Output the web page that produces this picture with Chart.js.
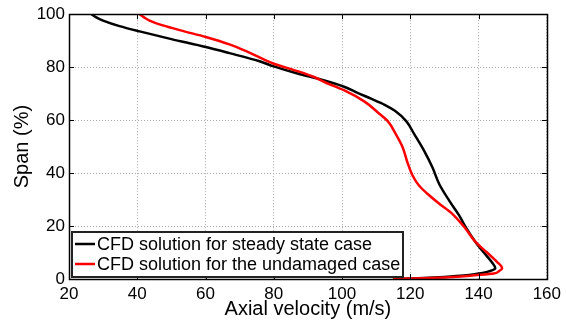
<!DOCTYPE html>
<html>
<head>
<meta charset="utf-8">
<script src="https://cdn.jsdelivr.net/npm/chart.js@4.4.1/dist/chart.umd.min.js"></script>
<style>
    html, body { margin: 0; padding: 0; background: #fff; }
    #wrap { width: 566px; height: 327px; }
</style>
</head>
<body>
<div id="wrap"><canvas id="profileChart" width="566" height="327"></canvas></div>
<script>
// velocity (m/s) vs span (%)
const steadyVel = [26.6, 28, 30, 34.8, 40.7, 50, 60.1, 67, 75.6, 80, 87.2, 93, 100.4, 104.7, 108.5, 112.5, 115.5, 118.8, 121.2, 124.1, 126.5, 128.5, 131.4, 134.3, 136.5, 139.1, 141.4, 143.8, 144.9, 143.8, 142.5, 139.6, 135.7, 130, 124, 118];
const steadySpan = [100, 98.8, 97.6, 95.5, 93.5, 90.6, 87.6, 85.3, 82.3, 80.3, 77.5, 75.6, 72.7, 70.2, 68.1, 65.8, 63.5, 59.6, 54.6, 48.3, 42.1, 35.8, 29.6, 24, 19, 14, 10.2, 6.5, 4, 3.2, 2.7, 2.0, 1.3, 0.8, 0.4, 0.1];

const undamagedVel = [40.7, 42, 43.6, 47.5, 53, 60.1, 67, 72.7, 80, 87.2, 92, 95, 100.4, 106.6, 110.5, 113.4, 115.8, 117.8, 119.2, 120.7, 122.6, 125.1, 128.5, 132.3, 136.2, 139.1, 142.3, 145.4, 146.9, 146, 144.5, 139.6, 130, 120, 114.9];
const undamagedSpan = [100, 98.8, 97.6, 95.8, 93.8, 91.4, 88.6, 85.6, 81.3, 78.4, 76.2, 74.3, 71.4, 67, 62.9, 59.6, 54.6, 49.6, 43.9, 39, 35.2, 32.1, 28.4, 24.6, 19, 14, 10.2, 6.5, 4, 3, 2.1, 1.5, 0.6, 0.2, 0];

const xTicks = [20, 40, 60, 80, 100, 120, 140, 160];
const yTicks = [0, 20, 40, 60, 80, 100];
const seriesLabels = ['CFD solution for steady state case', 'CFD solution for the undamaged case'];
const seriesColors = ['#000000', '#ff0000'];

const toPoints = (xs, ys) => xs.map((v, i) => ({ x: v, y: ys[i] }));

const FONT = 'Liberation Sans, Arial, Helvetica, sans-serif';

// box round the plot, inward tick marks and the legend box
const matlabFrame = {
    id: 'matlabFrame',
    afterDraw(chart) {
        const { ctx, chartArea: a, scales: { x, y } } = chart;
        ctx.save();
        ctx.strokeStyle = '#000';
        ctx.lineWidth = 1;
        ctx.beginPath();
        xTicks.forEach(v => {
            const px = Math.round(x.getPixelForValue(v)) + 0.5;
            ctx.moveTo(px, a.bottom); ctx.lineTo(px, a.bottom - 5);
            ctx.moveTo(px, a.top); ctx.lineTo(px, a.top + 5);
        });
        yTicks.forEach(v => {
            const py = Math.round(y.getPixelForValue(v)) + 0.5;
            ctx.moveTo(a.left, py); ctx.lineTo(a.left + 5, py);
            ctx.moveTo(a.right, py); ctx.lineTo(a.right - 5, py);
        });
        ctx.stroke();
        ctx.lineWidth = 1.5;
        ctx.strokeRect(Math.round(a.left) + 0.5, Math.round(a.top) + 0.5, Math.round(a.right - a.left), Math.round(a.bottom - a.top));

        // legend
        const lx = a.left + 3, ly = a.bottom - 47, lw = 331, lh = 45;
        ctx.fillStyle = '#fff';
        ctx.fillRect(lx, ly, lw, lh);
        ctx.strokeStyle = '#222';
        ctx.lineWidth = 2;
        ctx.strokeRect(lx, ly, lw, lh);
        ctx.font = '18px ' + FONT;
        ctx.textBaseline = 'middle';
        seriesLabels.forEach((label, i) => {
            const yy = ly + 12 + i * 20;
            ctx.strokeStyle = seriesColors[i];
            ctx.lineWidth = 2.5;
            ctx.beginPath();
            ctx.moveTo(lx + 3, yy); ctx.lineTo(lx + 23, yy);
            ctx.stroke();
            ctx.fillStyle = '#000';
            ctx.fillText(label, lx + 25, yy + 1);
        });
        ctx.restore();
    }
};

const ctx = document.getElementById('profileChart').getContext('2d');
new Chart(ctx, {
    type: 'line',
    data: {
        datasets: [{
            label: seriesLabels[0],
            data: toPoints(steadyVel, steadySpan),
            borderColor: seriesColors[0],
            borderWidth: 2.5,
            pointRadius: 0,
            fill: false,
            cubicInterpolationMode: 'monotone',
            order: 1
        }, {
            label: seriesLabels[1],
            data: toPoints(undamagedVel, undamagedSpan),
            borderColor: seriesColors[1],
            borderWidth: 2.5,
            pointRadius: 0,
            fill: false,
            cubicInterpolationMode: 'monotone',
            order: 0
        }]
    },
    options: {
        indexAxis: 'y',   // span runs one way along each profile
        responsive: false,
        animation: false,
        layout: { padding: { top: 12, right: 15, left: 0, bottom: 0 } },
        plugins: {
            legend: { display: false },
            tooltip: { enabled: false }
        },
        scales: {
            x: {
                type: 'linear',
                position: 'bottom',
                min: 20,
                max: 160,
                afterBuildTicks: s => { s.ticks = xTicks.map(v => ({ value: v })); },
                afterFit: s => { s.height = 48; },
                ticks: { color: '#000', padding: 5, maxRotation: 0, font: { family: FONT, size: 17 } },
                grid: { color: '#a8a8a8', drawTicks: false },
                border: { display: false, dash: [1, 2] },
                title: {
                    display: true,
                    text: 'Axial velocity (m/s)',
                    color: '#000',
                    font: { family: FONT, size: 20 },
                    padding: { top: 0, bottom: 6 }
                }
            },
            y: {
                type: 'linear',
                position: 'left',
                min: 0,
                max: 100,
                reverse: false,
                afterBuildTicks: s => { s.ticks = yTicks.map(v => ({ value: v })); },
                afterFit: s => { s.width = 69; },
                ticks: { color: '#000', padding: 4, font: { family: FONT, size: 17 } },
                grid: { color: '#a8a8a8', drawTicks: false },
                border: { display: false, dash: [1, 2] },
                title: {
                    display: true,
                    text: 'Span (%)',
                    color: '#000',
                    font: { family: FONT, size: 20 },
                    padding: { top: 10, bottom: 0 }
                }
            }
        }
    },
    plugins: [matlabFrame]
});
</script>
</body>
</html>
